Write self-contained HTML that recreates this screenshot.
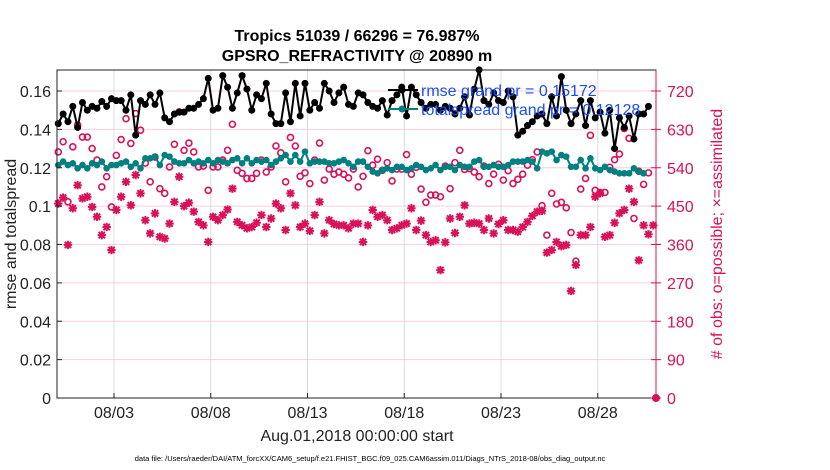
<!DOCTYPE html>
<html><head><meta charset="utf-8"><style>
body{margin:0;background:#fff;}
svg{display:block;font-family:"Liberation Sans",sans-serif;}
</style></head><body>
<svg id="chart" width="830" height="470" viewBox="0 0 830 470"></svg>
<script>
const dateTicks = ["08/03","08/08","08/13","08/18","08/23","08/28"];
const dateTickDays = [2,7,12,17,22,27];
const leftTicks = [0,0.02,0.04,0.06,0.08,0.1,0.12,0.14,0.16];
const leftTickLabels = ["0","0.02","0.04","0.06","0.08","0.1","0.12","0.14","0.16"];
const rightTicks = [0,90,180,270,360,450,540,630,720];
const rmse = [0.143,0.148,0.144,0.152,0.141,0.154,0.150,0.152,0.151,0.1545,0.152,0.156,0.155,0.155,0.150,0.158,0.137,0.155,0.153,0.158,0.153,0.159,0.146,0.144,0.148,0.149,0.149,0.151,0.151,0.153,0.156,0.1666,0.150,0.151,0.168,0.162,0.151,0.159,0.168,0.161,0.150,0.158,0.156,0.164,0.148,0.143,0.143,0.159,0.144,0.164,0.147,0.164,0.150,0.154,0.151,0.164,0.160,0.154,0.159,0.162,0.153,0.152,
0.159,0.158,0.154,0.152,0.151,0.155,0.1475,0.155,0.158,0.162,0.147,0.162,0.158,0.154,0.151,0.153,0.153,0.150,0.152,0.151,0.148,0.151,0.157,0.1475,0.161,0.171,0.155,0.153,0.159,0.155,0.154,0.160,0.157,0.137,0.139,0.142,0.144,0.147,0.148,0.143,0.157,0.147,0.1675,0.150,0.143,0.148,0.155,0.142,0.155,0.146,0.149,0.138,0.150,0.130,0.146,0.141,0.147,0.135,0.148,0.148,0.152];
const spread = [0.1214,0.1232,0.1214,0.1223,0.1197,0.1214,0.1197,0.1223,0.1214,0.1232,0.1197,0.1214,0.1214,0.1223,0.1232,0.1205,0.1223,0.1197,0.1249,0.1249,0.1258,0.1214,0.1266,0.1258,0.1232,0.1223,0.1223,0.1240,0.1223,0.1232,0.1223,0.1240,0.1223,0.1240,0.1232,0.1223,0.1240,0.1249,0.1223,0.1249,0.1223,0.1240,0.1232,0.1240,0.1214,0.1232,0.1249,0.1266,0.1232,0.1266,0.1232,0.1284,0.1223,0.1232,0.1232,0.1232,0.1223,0.1223,0.1232,0.1240,0.1223,0.1205,
0.1232,0.1232,0.1205,0.1180,0.1171,0.1188,0.1197,0.1188,0.1205,0.1205,0.1188,0.1197,0.1214,0.1205,0.1188,0.1197,0.1214,0.1188,0.1205,0.1205,0.1188,0.1214,0.1205,0.1205,0.1232,0.1240,0.1205,0.1205,0.1214,0.1205,0.1205,0.1214,0.1232,0.1232,0.1232,0.1240,0.1232,0.1197,0.1284,0.1275,0.1284,0.1240,0.1266,0.1258,0.1205,0.1205,0.1240,0.1197,0.1249,0.1197,0.1188,0.1205,0.1188,0.1180,0.1171,0.1171,0.1171,0.1197,0.1180,0.1171];
const possible = [577,601,460,589,640,612,612,585,558,495,519,448,569,606,655,597,667,628,551,507,565,491,480,542,595,671,581,598,577,542,544,487,542,542,558,581,642,534,527,515,515,527,558,530,542,591,575,507,611,591,520,528,503,558,598,511,537,525,530,525,516,537,
495,520,580,546,560,534,552,509,537,537,571,525,541,490,459,476,476,472,544,491,552,581,536,538,530,519,544,503,525,548,511,533,503,513,525,546,559,577,451,382,480,455,459,446,388,321,490,515,616,487,482,482,541,559,572,632,609,421,532,501,528];
const assim = [456,470,359,445,499,468,472,448,425,382,401,347,441,472,507,452,523,480,417,386,433,378,374,409,460,519,450,458,437,413,405,366,425,417,429,442,491,413,405,398,401,411,429,401,421,456,445,394,480,452,401,409,392,429,460,386,417,408,405,405,398,409,
409,366,405,441,425,429,417,394,398,405,409,445,394,416,382,366,370,300,365,421,387,425,452,409,411,409,394,421,386,408,417,394,394,390,401,413,427,437,439,341,347,366,356,359,251,312,382,382,401,472,480,378,382,411,433,441,491,460,323,405,384,405];

const NS="http://www.w3.org/2000/svg";
const svg=document.getElementById('chart');
const L=57,R=656,T=70,B=398;
const xs=d=>75.3+d*19.35;
const yL=v=>B-v*1918.75;
const yR=c=>B-c*(38.375/90);
const tAt=i=>-0.88+i*0.25;
function el(tag,attrs,parent){const e=document.createElementNS(NS,tag);for(const k in attrs)e.setAttribute(k,attrs[k]);(parent||svg).appendChild(e);return e;}
function txt(s,attrs){const e=el('text',attrs);e.textContent=s;return e;}

const grid=el('g',{});


leftTicks.forEach(v=>{if(v>0)el('line',{x1:L,x2:R,y1:yL(v),y2:yL(v),stroke:'#f7cfe0','stroke-width':1},grid);});
dateTickDays.forEach(d=>el('line',{x1:xs(d),x2:xs(d),y1:T,y2:B,stroke:'#dcdcdc','stroke-width':1},grid));

const gp=el('g',{});


possible.forEach((c,i)=>{const x=xs(tAt(i));if(x>R)return;const m=el('circle',{cx:x,cy:yR(c),r:3,fill:'none',stroke:'#d9105a','stroke-width':1.6},gp);

});
el('circle',{cx:R,cy:B,r:3.5,fill:'#d9105a',stroke:'#d9105a'},gp);

const ga=el('g',{});


assim.forEach((c,i)=>{const x=xs(tAt(i));if(x>R)return;const y=yR(c);
const r=4.2;
const s=el('path',{d:`M${x-r},${y}H${x+r}M${x},${y-r}V${y+r}M${x-r*0.75},${y-r*0.75}L${x+r*0.75},${y+r*0.75}M${x-r*0.75},${y+r*0.75}L${x+r*0.75},${y-r*0.75}`,stroke:'#d9105a','stroke-width':2,fill:'none'},ga);

});

const pts2=spread.map((v,i)=>[xs(tAt(i)),yL(v)]).filter(p=>p[0]<=R);
const ls=el('polyline',{points:pts2.map(p=>p.join(',')).join(' '),fill:'none',stroke:'#008080','stroke-width':2});


pts2.forEach(p=>el('circle',{cx:p[0],cy:p[1],r:3.3,fill:'#008080'}));

const pts1=rmse.map((v,i)=>[xs(tAt(i)),yL(v)]).filter(p=>p[0]<=R);
const lr=el('polyline',{points:pts1.map(p=>p.join(',')).join(' '),fill:'none',stroke:'#000','stroke-width':2});


pts1.forEach(p=>el('circle',{cx:p[0],cy:p[1],r:3.5,fill:'#000'}));

el('rect',{x:L,y:T,width:R-L,height:B-T,fill:'none',stroke:'#222','stroke-width':1});
el('line',{x1:R,x2:R,y1:T,y2:B,stroke:'#d9105a','stroke-width':1});
leftTicks.forEach((v,i)=>{el('line',{x1:L,x2:L+5,y1:yL(v),y2:yL(v),stroke:'#222'});
const t=txt(leftTickLabels[i],{x:L-6,y:yL(v)+6,'font-size':16,'text-anchor':'end',fill:'#222'});

});
rightTicks.forEach(c=>{el('line',{x1:R-5,x2:R+5,y1:yR(c),y2:yR(c),stroke:'#d9105a'});
const t=txt(String(c),{x:R+11,y:yR(c)+6,'font-size':16,fill:'#d9105a'});

});
dateTicks.forEach((s,i)=>{const x=xs(dateTickDays[i]);el('line',{x1:x,x2:x,y1:B,y2:B-5,stroke:'#222'});
const t=txt(s,{x:x,y:B+20,'font-size':16,'text-anchor':'middle',fill:'#222'});

});

const lg=el('g',{});


el('line',{x1:388,x2:418,y1:90,y2:90,stroke:'#000','stroke-width':2},lg);
el('circle',{cx:402,cy:90,r:3.5,fill:'#000'},lg);
el('line',{x1:388,x2:418,y1:109,y2:109,stroke:'#008080','stroke-width':2},lg);
el('circle',{cx:402,cy:109,r:3.5,fill:'#008080'},lg);
lg.appendChild(txt('rmse grand pr = 0.15172',{x:421,y:96,'font-size':16,fill:'#1a4dff'}));
lg.appendChild(txt('totalspread grand pr = 0.12128',{x:421,y:115,'font-size':16,fill:'#1a4dff'}));
</script>
<svg style="position:absolute;left:0;top:0" width="830" height="470">
<text x="357" y="41" font-size="16" font-weight="bold" text-anchor="middle" font-family="Liberation Sans, sans-serif">Tropics 51039 / 66296 = 76.987%</text>
<text x="357" y="61" font-size="16" font-weight="bold" text-anchor="middle" font-family="Liberation Sans, sans-serif">GPSRO_REFRACTIVITY @ 20890 m</text>
<text transform="translate(16,234) rotate(-90)" font-size="16" text-anchor="middle" font-family="Liberation Sans, sans-serif" fill="#222">rmse and totalspread</text>
<text transform="translate(722,234) rotate(-90)" font-size="16" text-anchor="middle" font-family="Liberation Sans, sans-serif" fill="#d9105a"># of obs: o=possible; ×=assimilated</text>
<text x="357" y="441" font-size="16" text-anchor="middle" font-family="Liberation Sans, sans-serif" fill="#222">Aug.01,2018 00:00:00 start</text>
<text x="370" y="461" font-size="7.5" text-anchor="middle" font-family="Liberation Sans, sans-serif" fill="#000">data file: /Users/raeder/DAI/ATM_forcXX/CAM6_setup/f.e21.FHIST_BGC.f09_025.CAM6assim.011/Diags_NTrS_2018-08/obs_diag_output.nc</text>
</svg>
</body></html>
